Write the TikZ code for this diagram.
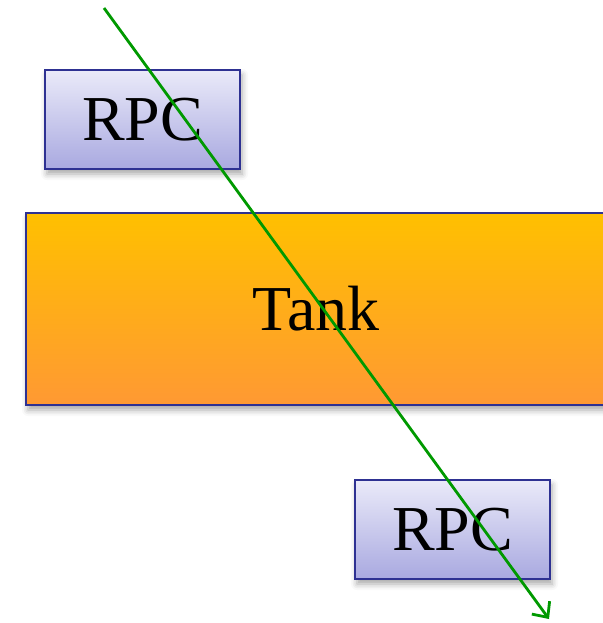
\documentclass[tikz,border=0pt]{standalone}
\usepackage{fontspec}
\setmainfont{Liberation Serif}
\usepackage{tikz}
\usetikzlibrary{arrows.meta,shadows.blur}
\definecolor{boxblue}{HTML}{2E3192}
\definecolor{rpctop}{HTML}{EAEAF9}
\definecolor{rpcbot}{HTML}{A9A9E0}
\definecolor{tanktop}{HTML}{FFC000}
\definecolor{tankbot}{HTML}{FF9933}
\definecolor{raygreen}{HTML}{009900}

\begin{document}
\begin{tikzpicture}[
    x=1pt, y=-1pt,
    every node/.style={rectangle, draw=boxblue, line width=2.8pt, inner sep=0pt,
        font=\fontsize{64}{66}\selectfont,
        blur shadow={shadow xshift=2pt, shadow yshift=-5pt, shadow blur radius=6pt, shadow opacity=35}},
    rpcbox/.style={minimum width=195pt, minimum height=99pt, top color=rpctop, bottom color=rpcbot},
    tankbox/.style={minimum width=580pt, minimum height=192pt, top color=tanktop, bottom color=tankbot}
]
\useasboundingbox (0,0) rectangle (602,623);
\node[rpcbox] (rpcup) at (142.5,119.5) {RPC};
\node[tankbox] (tank) at (316,309) {Tank};
\node[rpcbox] (rpcdown) at (452.5,529.5) {RPC};
% muon track
\coordinate (trackin) at (104,8);
\coordinate (trackout) at (549,619);
\draw[raygreen, line width=2.8pt, -{Straight Barb[length=12pt,width=22pt]}] (trackin) -- (trackout);
\end{tikzpicture}
\end{document}
